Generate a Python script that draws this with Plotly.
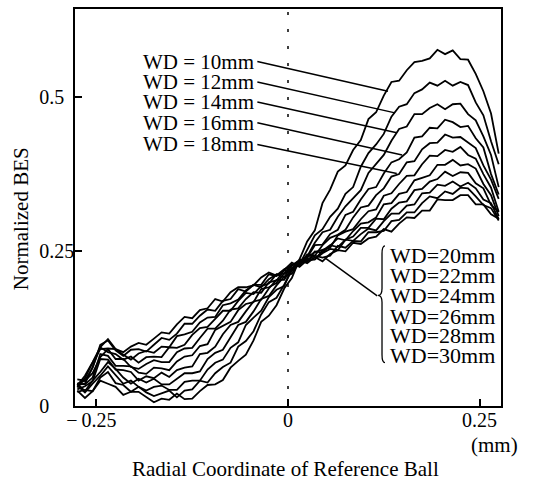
import plotly.graph_objects as go

# radial coordinate of reference ball (mm)
x_mm = [-0.275, -0.265, -0.255, -0.245, -0.235, -0.225, -0.215, -0.205, -0.195, -0.185,
        -0.175, -0.165, -0.155, -0.145, -0.135, -0.125, -0.115, -0.105, -0.095, -0.085,
        -0.075, -0.065, -0.055, -0.045, -0.035, -0.025, -0.015, -0.005, 0.005, 0.015,
        0.025, 0.035, 0.045, 0.055, 0.065, 0.075, 0.085, 0.095, 0.105, 0.115,
        0.125, 0.135, 0.145, 0.155, 0.165, 0.175, 0.185, 0.195, 0.205, 0.215,
        0.225, 0.235, 0.245, 0.255, 0.265, 0.275]

bes_wd10 = [0.025, 0.013, 0.024, 0.041, 0.036, 0.031, 0.018, 0.023, 0.023, 0.014,
            0.006, 0.012, 0.010, 0.020, 0.011, 0.012, 0.024, 0.034, 0.035, 0.042,
            0.062, 0.073, 0.083, 0.106, 0.136, 0.146, 0.163, 0.190, 0.207, 0.237,
            0.266, 0.284, 0.328, 0.350, 0.379, 0.389, 0.414, 0.430, 0.464, 0.475,
            0.502, 0.524, 0.526, 0.543, 0.556, 0.558, 0.562, 0.576, 0.569, 0.575,
            0.561, 0.560, 0.537, 0.509, 0.473, 0.408]
bes_wd12 = [0.023, 0.026, 0.024, 0.046, 0.055, 0.037, 0.034, 0.023, 0.031, 0.022,
            0.016, 0.021, 0.025, 0.014, 0.025, 0.027, 0.041, 0.038, 0.053, 0.063,
            0.070, 0.096, 0.105, 0.121, 0.148, 0.168, 0.175, 0.196, 0.219, 0.229,
            0.252, 0.276, 0.286, 0.306, 0.319, 0.343, 0.354, 0.387, 0.409, 0.423,
            0.440, 0.468, 0.484, 0.488, 0.506, 0.512, 0.523, 0.518, 0.526, 0.518,
            0.524, 0.519, 0.491, 0.470, 0.428, 0.391]
bes_wd14 = [0.033, 0.022, 0.036, 0.049, 0.064, 0.050, 0.036, 0.041, 0.031, 0.025,
            0.031, 0.033, 0.026, 0.026, 0.039, 0.041, 0.041, 0.059, 0.070, 0.075,
            0.094, 0.103, 0.131, 0.143, 0.154, 0.176, 0.188, 0.194, 0.223, 0.232,
            0.242, 0.264, 0.281, 0.285, 0.306, 0.323, 0.336, 0.349, 0.377, 0.392,
            0.406, 0.429, 0.448, 0.452, 0.472, 0.472, 0.482, 0.488, 0.480, 0.488,
            0.489, 0.472, 0.462, 0.436, 0.406, 0.354]
bes_wd16 = [0.036, 0.024, 0.041, 0.055, 0.071, 0.060, 0.046, 0.036, 0.044, 0.038,
            0.044, 0.035, 0.035, 0.044, 0.053, 0.053, 0.056, 0.076, 0.086, 0.091,
            0.111, 0.131, 0.136, 0.153, 0.173, 0.178, 0.195, 0.209, 0.214, 0.235,
            0.240, 0.260, 0.261, 0.278, 0.285, 0.309, 0.314, 0.334, 0.351, 0.354,
            0.376, 0.394, 0.399, 0.410, 0.434, 0.436, 0.450, 0.449, 0.463, 0.459,
            0.451, 0.453, 0.433, 0.418, 0.375, 0.342]
bes_wd18 = [0.027, 0.032, 0.040, 0.076, 0.075, 0.059, 0.058, 0.055, 0.041, 0.048,
            0.045, 0.054, 0.047, 0.058, 0.062, 0.064, 0.084, 0.086, 0.096, 0.116,
            0.131, 0.136, 0.153, 0.169, 0.172, 0.190, 0.204, 0.204, 0.223, 0.229,
            0.245, 0.243, 0.260, 0.272, 0.277, 0.285, 0.305, 0.321, 0.324, 0.341,
            0.352, 0.371, 0.375, 0.394, 0.396, 0.415, 0.425, 0.426, 0.439, 0.434,
            0.435, 0.426, 0.417, 0.389, 0.366, 0.335]
bes_wd20 = [0.036, 0.035, 0.046, 0.084, 0.081, 0.065, 0.065, 0.064, 0.054, 0.052,
            0.062, 0.061, 0.058, 0.072, 0.080, 0.082, 0.097, 0.100, 0.123, 0.129,
            0.136, 0.155, 0.165, 0.168, 0.189, 0.192, 0.199, 0.214, 0.229, 0.227,
            0.240, 0.249, 0.252, 0.256, 0.276, 0.282, 0.286, 0.302, 0.315, 0.318,
            0.340, 0.344, 0.359, 0.372, 0.373, 0.391, 0.405, 0.404, 0.414, 0.411,
            0.419, 0.406, 0.400, 0.375, 0.353, 0.314]
bes_wd22 = [0.036, 0.041, 0.053, 0.079, 0.092, 0.076, 0.076, 0.063, 0.060, 0.068,
            0.074, 0.071, 0.071, 0.087, 0.093, 0.094, 0.110, 0.125, 0.125, 0.138,
            0.156, 0.158, 0.173, 0.184, 0.183, 0.200, 0.203, 0.219, 0.220, 0.233,
            0.233, 0.250, 0.248, 0.260, 0.271, 0.268, 0.283, 0.295, 0.297, 0.305,
            0.326, 0.328, 0.343, 0.346, 0.365, 0.369, 0.373, 0.390, 0.390, 0.398,
            0.389, 0.391, 0.384, 0.359, 0.341, 0.307]
bes_wd24 = [0.034, 0.036, 0.063, 0.095, 0.087, 0.084, 0.075, 0.080, 0.070, 0.079,
            0.080, 0.079, 0.095, 0.094, 0.099, 0.115, 0.126, 0.128, 0.141, 0.154,
            0.154, 0.170, 0.183, 0.181, 0.194, 0.198, 0.213, 0.208, 0.227, 0.235,
            0.235, 0.237, 0.251, 0.260, 0.257, 0.269, 0.274, 0.288, 0.288, 0.303,
            0.302, 0.319, 0.329, 0.331, 0.349, 0.351, 0.363, 0.367, 0.379, 0.372,
            0.378, 0.377, 0.360, 0.352, 0.325, 0.314]
bes_wd26 = [0.030, 0.045, 0.070, 0.092, 0.093, 0.092, 0.083, 0.075, 0.085, 0.089,
            0.086, 0.096, 0.095, 0.113, 0.116, 0.120, 0.135, 0.143, 0.144, 0.163,
            0.166, 0.172, 0.187, 0.196, 0.192, 0.205, 0.213, 0.214, 0.220, 0.236,
            0.238, 0.237, 0.247, 0.254, 0.252, 0.269, 0.267, 0.278, 0.287, 0.284,
            0.299, 0.311, 0.311, 0.324, 0.326, 0.344, 0.345, 0.358, 0.356, 0.363,
            0.355, 0.361, 0.352, 0.334, 0.328, 0.302]
bes_wd28 = [0.043, 0.041, 0.062, 0.099, 0.106, 0.090, 0.081, 0.091, 0.092, 0.088,
            0.099, 0.110, 0.107, 0.117, 0.133, 0.133, 0.146, 0.156, 0.154, 0.170,
            0.173, 0.189, 0.185, 0.196, 0.196, 0.213, 0.210, 0.220, 0.232, 0.225,
            0.236, 0.243, 0.240, 0.243, 0.259, 0.256, 0.267, 0.266, 0.281, 0.281,
            0.283, 0.299, 0.301, 0.313, 0.313, 0.328, 0.339, 0.336, 0.347, 0.343,
            0.353, 0.352, 0.339, 0.325, 0.320, 0.300]
bes_wd30 = [0.033, 0.049, 0.071, 0.095, 0.108, 0.092, 0.087, 0.096, 0.102, 0.099,
            0.109, 0.119, 0.117, 0.132, 0.144, 0.142, 0.155, 0.158, 0.173, 0.169,
            0.184, 0.192, 0.192, 0.195, 0.208, 0.216, 0.211, 0.221, 0.227, 0.236,
            0.231, 0.241, 0.234, 0.246, 0.252, 0.250, 0.264, 0.262, 0.271, 0.274,
            0.286, 0.282, 0.295, 0.305, 0.304, 0.316, 0.316, 0.334, 0.333, 0.333,
            0.341, 0.341, 0.326, 0.326, 0.310, 0.303]

series = [bes_wd10, bes_wd12, bes_wd14, bes_wd16, bes_wd18, bes_wd20,
          bes_wd22, bes_wd24, bes_wd26, bes_wd28, bes_wd30]
wd_names = ["WD=10mm", "WD=12mm", "WD=14mm", "WD=16mm", "WD=18mm", "WD=20mm",
            "WD=22mm", "WD=24mm", "WD=26mm", "WD=28mm", "WD=30mm"]

upper_labels = ["WD = 10mm", "WD = 12mm", "WD = 14mm", "WD = 16mm", "WD = 18mm"]
lower_labels = ["WD=20mm", "WD=22mm", "WD=24mm", "WD=26mm", "WD=28mm", "WD=30mm"]

x_tick_vals = [-0.25, 0, 0.25]
x_tick_text = ["\u2212\u20090.25\u00a0\u00a0", "0", "0.25"]
y_tick_vals = [0, 0.25, 0.5]
y_tick_text = ["0\u00a0\u00a0\u00a0\u00a0\u00a0", "0.25", "0.5\u00a0\u00a0"]

FONT = "Liberation Serif"

fig = go.Figure()
for name, ys in zip(wd_names, series):
    fig.add_trace(go.Scatter(x=x_mm, y=ys, mode="lines", name=name,
                             line=dict(color="black", width=1.8),
                             showlegend=False, hoverinfo="skip"))

shapes = []
# dotted centre line
shapes.append(dict(type="line", xref="x", yref="paper", x0=0, x1=0, y0=0, y1=1,
                   line=dict(color="black", width=1.5, dash="3px,14px")))

# leader lines for upper labels (start near label end, end on curve)
upper_label_y = [0.557, 0.524, 0.4915, 0.458, 0.423]
upper_end_x = [0.1305, 0.1397, 0.142, 0.149, 0.142]
upper_end_y = [0.509, 0.474, 0.442, 0.406, 0.376]
for ly, ex, ey in zip(upper_label_y, upper_end_x, upper_end_y):
    shapes.append(dict(type="line", xref="x", yref="y", x0=-0.040, y0=ly, x1=ex, y1=ey,
                       line=dict(color="black", width=1.5)))

# brace for the lower group and its leader line
shapes.append(dict(type="path", xref="x", yref="y",
                   path="M 0.1266,0.2591 Q 0.1227,0.2591 0.1227,0.2463 L 0.1227,0.1902 "
                        "Q 0.1227,0.179 0.1175,0.179 Q 0.1227,0.179 0.1227,0.1678 "
                        "L 0.1227,0.0829 Q 0.1227,0.07 0.1266,0.07",
                   line=dict(color="black", width=1.3)))
shapes.append(dict(type="line", xref="x", yref="y", x0=0.1165, y0=0.178, x1=0.0496, y1=0.2383,
                   line=dict(color="black", width=1.5)))

annotations = []
for txt, ly in zip(upper_labels, upper_label_y):
    annotations.append(dict(x=-0.0418, y=ly, xref="x", yref="y", text=txt, showarrow=False,
                            xanchor="right", yanchor="middle",
                            font=dict(family=FONT, size=21, color="black")))
lower_label_y = [0.2431, 0.2111, 0.1790, 0.1454, 0.1133, 0.0812]
for txt, ly in zip(lower_labels, lower_label_y):
    annotations.append(dict(x=0.1310, y=ly, xref="x", yref="y", text=txt, showarrow=False,
                            xanchor="left", yanchor="middle",
                            font=dict(family=FONT, size=22, color="black")))

annotations.append(dict(x=-0.128, y=0.4716, xref="paper", yref="paper", text="Normalized BES",
                        textangle=-90, showarrow=False, xanchor="center", yanchor="middle",
                        font=dict(family=FONT, size=21, color="black")))
annotations.append(dict(x=0.494, y=-0.159, xref="paper", yref="paper",
                        text="Radial Coordinate of Reference Ball", showarrow=False,
                        xanchor="center", yanchor="middle",
                        font=dict(family=FONT, size=21, color="black")))
annotations.append(dict(x=0.985, y=-0.0988, xref="paper", yref="paper", text="(mm)",
                        showarrow=False, xanchor="center", yanchor="middle",
                        font=dict(family=FONT, size=21, color="black")))

axis_common = dict(showline=True, linecolor="black", linewidth=1.5, mirror=True,
                   ticks="inside", ticklen=7, tickwidth=1.5, tickcolor="black",
                   showgrid=False, zeroline=False, ticklabelstandoff=-5,
                   tickfont=dict(family=FONT, size=20, color="black"))

fig.update_layout(
    width=534, height=481,
    margin=dict(l=75, r=33, t=7, b=75),
    paper_bgcolor="white", plot_bgcolor="white",
    font=dict(family=FONT, size=20, color="black"),
    xaxis=dict(range=[-0.278, 0.278], tickvals=x_tick_vals, ticktext=x_tick_text, **axis_common),
    yaxis=dict(range=[0, 0.642], tickvals=y_tick_vals, ticktext=y_tick_text, **axis_common),
    shapes=shapes, annotations=annotations,
)

fig.write_html("out.html", config={"displayModeBar": False},
               post_script="document.body.style.margin='0px';")
